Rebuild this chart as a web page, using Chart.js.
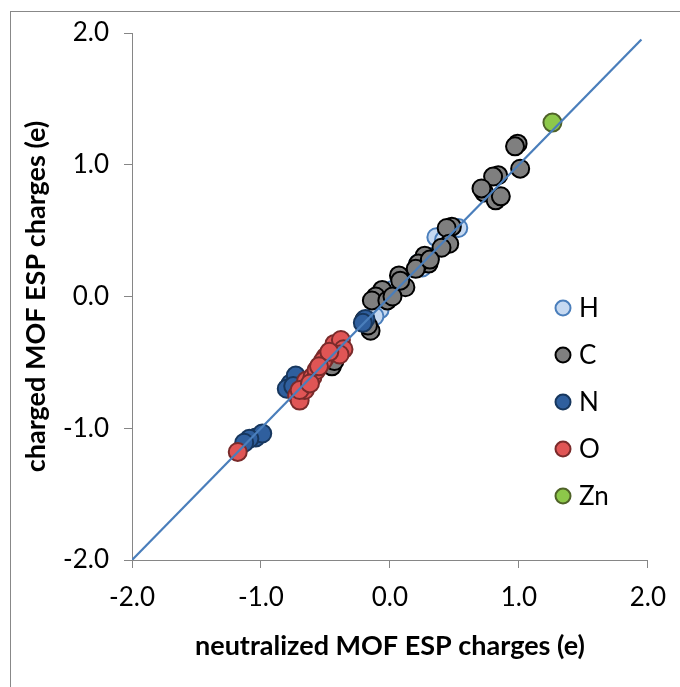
<!DOCTYPE html>
<html>
<head>
<meta charset="utf-8">
<script src="https://cdn.jsdelivr.net/npm/chart.js@4/dist/chart.umd.min.js"></script>
<style>
  html, body { margin: 0; padding: 0; background: #fff; }
  #wrap { position: relative; width: 680px; height: 687px; }
</style>
</head>
<body>
<div id="wrap"><canvas id="myChart"></canvas></div>
<script>
// neutralized charge, charged charge (e)
const hydrogen = [[0.53,0.52],[0.36,0.45],[0.31,0.30],[0.22,0.25],[0.08,0.14],[0.02,0.05],[-0.08,-0.10],[-0.12,-0.15],[0.25,0.22],[0.42,0.43]];
const carbon = [[0.99,1.16],[0.97,1.14],[1.01,0.97],[0.84,0.92],[0.80,0.91],[0.73,0.79],[0.82,0.73],[0.86,0.76],[0.71,0.82],
  [0.48,0.53],[0.44,0.52],[0.46,0.40],[0.40,0.37],[0.27,0.31],[0.30,0.25],[0.22,0.25],[0.20,0.21],[0.07,0.16],[0.12,0.07],
  [-0.06,0.05],[-0.11,0.00],[-0.14,-0.03],[-0.02,-0.03],[-0.15,-0.26],[-0.20,-0.18],[-0.17,-0.22],[-0.45,-0.53],[-0.43,-0.49],
  [0.02,0.00],[0.31,0.28],[0.08,0.12]];
const nitrogen = [[-1.04,-1.07],[-0.99,-1.04],[-1.09,-1.08],[-1.13,-1.11],[-0.77,-0.66],[-0.80,-0.70],[-0.73,-0.60],[-0.75,-0.68],[-0.19,-0.17],[-0.21,-0.20]];
const oxygen = [[-1.18,-1.18],[-0.72,-0.75],[-0.70,-0.79],[-0.66,-0.71],[-0.65,-0.64],[-0.60,-0.61],[-0.57,-0.56],[-0.50,-0.46],[-0.52,-0.49],
  [-0.43,-0.36],[-0.38,-0.33],[-0.36,-0.40],[-0.39,-0.44],[-0.70,-0.71],[-0.47,-0.42],[-0.62,-0.66],[-0.55,-0.53]];
const zinc = [[1.26,1.32]];
const fitLine = [[-2,-2],[1.95,1.95]];
const axisTicks = [-2, -1, 0, 1, 2];

const FONT = 'Lato';
const toPts = arr => arr.map(p => ({ x: p[0], y: p[1] }));

function series(label, pts, bg, border, order) {
  return {
    label: label,
    data: toPts(pts),
    backgroundColor: bg,
    borderColor: border,
    borderWidth: 2,
    pointRadius: 9,
    pointHoverRadius: 9,
    order: order
  };
}

// outer frame
const framePlugin = {
  id: 'frame',
  beforeDraw(chart) {
    const c = chart.ctx;
    c.save();
    c.strokeStyle = '#888888';
    c.lineWidth = 1;
    c.strokeRect(10.5, 11.5, 720, 720);
    c.restore();
  }
};

// legend drawn inside the plot area
const legendPlugin = {
  id: 'insideLegend',
  afterDraw(chart) {
    const c = chart.ctx;
    const items = chart.data.datasets.filter(d => d.label);
    c.save();
    c.font = '26px ' + FONT;
    c.textBaseline = 'middle';
    items.forEach((d, i) => {
      const y = 308 + i * 47;
      c.beginPath();
      c.arc(563, y, 7.5, 0, Math.PI * 2);
      c.fillStyle = d.backgroundColor;
      c.fill();
      c.lineWidth = 2;
      c.strokeStyle = d.borderColor;
      c.stroke();
      c.fillStyle = '#000';
      c.fillText(d.label, 579, y + 1);
    });
    c.restore();
  }
};

const axisBase = {
  type: 'linear',
  min: -2,
  max: 2,
  afterBuildTicks: s => { s.ticks = axisTicks.map(v => ({ value: v })); },
  grid: { drawOnChartArea: false, drawTicks: true, tickLength: 8, color: '#868686' },
  border: { color: '#868686', width: 1 }
};

const ctx = document.getElementById('myChart');
new Chart(ctx, {
  type: 'scatter',
  data: {
    datasets: [
      series('H', hydrogen, '#c6d9f1', '#4a7ebb', 5),
      series('C', carbon, '#7f7f7f', '#000000', 4),
      series('N', nitrogen, '#2f5f9e', '#17375e', 3),
      series('O', oxygen, '#e05555', '#7a2b2b', 2),
      series('Zn', zinc, '#8dc84a', '#4f6228', 1),
      {
        type: 'line',
        data: toPts(fitLine),
        borderColor: '#4a7ebb',
        borderWidth: 2.25,
        pointRadius: 0,
        fill: false,
        order: 0
      }
    ]
  },
  options: {
    responsive: true,
    maintainAspectRatio: false,
    animation: false,
    layout: { padding: { top: 33, right: 22, bottom: 0, left: 0 } },
    plugins: { legend: { display: false }, tooltip: { enabled: false } },
    scales: {
      x: Object.assign({}, axisBase, {
        afterFit: s => { s.height = 127; },
        ticks: { color: '#000', padding: 14, font: { family: FONT, size: 26 }, callback: v => v.toFixed(1) },
        title: { display: true, text: 'neutralized MOF ESP charges (e)', color: '#000',
          font: { family: FONT, size: 27, weight: 'bold' }, padding: { top: 0, bottom: 25 } }
      }),
      y: Object.assign({}, axisBase, {
        afterFit: s => { s.width = 132; },
        ticks: { color: '#000', padding: 15, font: { family: FONT, size: 26 }, callback: v => v.toFixed(1) },
        title: { display: true, text: 'charged MOF ESP charges (e)', color: '#000',
          font: { family: FONT, size: 27, weight: 'bold' }, padding: { top: 20, bottom: 0 } }
      })
    }
  },
  plugins: [framePlugin, legendPlugin]
});
</script>
</body>
</html>
